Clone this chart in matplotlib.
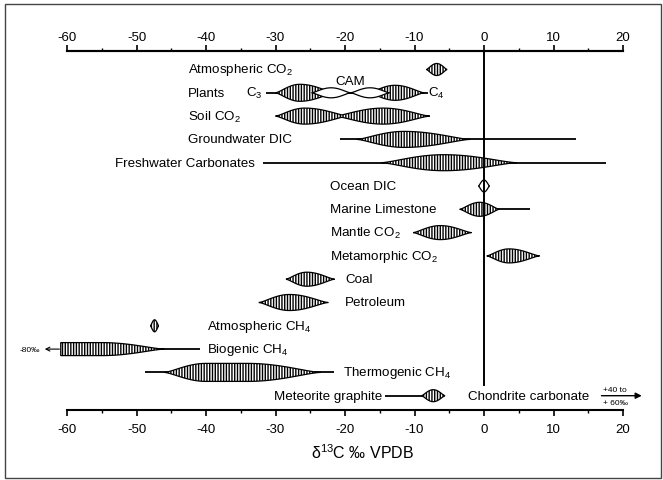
import numpy as np
import matplotlib
matplotlib.use("Agg")
import matplotlib.pyplot as plt
from matplotlib.patches import Polygon, Rectangle
from matplotlib.transforms import blended_transform_factory

plt.rcParams['font.family'] = ['Liberation Sans', 'DejaVu Sans']
plt.rcParams['mathtext.fontset'] = 'custom'
plt.rcParams['mathtext.rm'] = 'Liberation Sans'
plt.rcParams['mathtext.it'] = 'Liberation Sans:italic'
plt.rcParams['mathtext.bf'] = 'Liberation Sans:bold'
plt.rcParams['axes.unicode_minus'] = False
plt.rcParams['hatch.linewidth'] = 1.0

# ---------------- data (delta13C, permil VPDB) ----------------
row_labels = ["Atmospheric CO$_2$", "Plants", "Soil CO$_2$", "Groundwater DIC",
              "Freshwater Carbonates", "Ocean DIC", "Marine Limestone",
              "Mantle CO$_2$", "Metamorphic CO$_2$", "Coal", "Petroleum",
              "Atmospheric CH$_4$", "Biogenic CH$_4$", "Thermogenic CH$_4$",
              "Meteorite graphite"]
label_x = [-42.6, -42.6, -42.6, -42.6, -33.0, -22.2, -22.2, -22.2, -22.2,
           -20.0, -20.0, -39.8, -39.8, -20.3, -14.6]
label_ha = ["left", "left", "left", "left", "right", "left", "left", "left",
            "left", "left", "left", "left", "left", "left", "right"]

# full range whiskers
whisk_row = [1, 3, 4, 6, 12, 13, 14]
whisk_low = [-31.3, -20.7, -31.8, -1.0, -60.0, -48.8, -14.2]
whisk_high = [-8.0, 13.3, 17.5, 6.6, -40.8, -21.6, -7.0]

# distribution bodies: row, low, mode range, high, filled (hatched) or open
comp_row = [0, 1, 1, 1, 1, 2, 2, 3, 4, 5, 6, 7, 8, 9, 10, 11, 12, 13, 14]
comp_low = [-8.3, -30.0, -16.6, -24.8, -19.2, -30.0, -21.5, -18.3, -14.8, -0.8,
            -3.5, -10.2, 0.4, -28.5, -32.4, -48.0, -60.9, -46.0, -9.0]
comp_mode_lo = [-6.8, -26.5, -12.8, -22.0, -16.4, -25.8, -14.5, -11.5, -5.8, 0.0,
                -0.6, -6.3, 3.6, -25.5, -28.0, -47.4, -60.9, -40.0, -7.3]
comp_mode_hi = [-6.8, -26.5, -12.8, -22.0, -16.4, -25.8, -14.5, -11.5, -5.8, 0.0,
                -0.6, -6.3, 3.6, -25.5, -28.0, -47.4, -55.0, -34.0, -7.3]
comp_high = [-5.3, -21.5, -8.6, -19.2, -13.6, -19.5, -7.8, -2.0, 4.7, 0.8,
             2.2, -1.8, 8.0, -21.5, -22.4, -46.8, -46.0, -23.5, -5.6]
comp_filled = [True, True, True, False, False, True, True, True, True, False,
               True, True, True, True, True, True, True, True, True]
comp_half_px = [6, 8.5, 7.5, 5, 5, 8, 8, 8, 8, 6, 7, 7, 7, 7, 8, 6, 6.5, 9, 6]

xticks = [-60, -50, -40, -30, -20, -10, 0, 10, 20]

# ---------------- layout ----------------
W, H = 663, 481
ROW_PX = 23.3
ROW0_PX = 70.5
AX_TOP_PX, AX_BOT_PX = 52, 411

fig = plt.figure(figsize=(W / 100, H / 100), dpi=100)
ax = fig.add_axes([67 / W, 1 - AX_BOT_PX / H, (623 - 67) / W,
                   (AX_BOT_PX - AX_TOP_PX) / H])
ax.set_xlim(-60, 20)
ymin = (AX_TOP_PX - ROW0_PX) / ROW_PX
ymax = (AX_BOT_PX - ROW0_PX) / ROW_PX
ax.set_ylim(ymax, ymin)

for s in ['left', 'right']:
    ax.spines[s].set_visible(False)
for s in ['top', 'bottom']:
    ax.spines[s].set_linewidth(1.5)
ax.set_yticks([])
ax.set_xticks(xticks)
ax.set_xticklabels([str(t) for t in xticks])
ax.set_xticks(np.arange(-55, 20, 10), minor=True)
ax.tick_params(axis='x', which='major', bottom=True, top=False, direction='out',
               length=4, width=1.2, labelsize=9.5, pad=5.5)
ax.tick_params(axis='x', which='minor', bottom=True, top=False, direction='out',
               length=2, width=1.0)
sec = ax.secondary_xaxis('top')
sec.set_xticks(xticks)
sec.set_xticklabels([str(t) for t in xticks])
sec.set_xticks(np.arange(-55, 20, 10), minor=True)
sec.spines['top'].set_linewidth(1.5)
sec.tick_params(axis='x', which='major', direction='out', length=4, width=1.2,
                labelsize=9.5, pad=2)
sec.tick_params(axis='x', which='minor', direction='out', length=2, width=1.0)

# zero line
ax.plot([0, 0], [ymin, 13.55], color='black', lw=1.4, zorder=6, clip_on=False)

# whiskers
for r, lo, hi in zip(whisk_row, whisk_low, whisk_high):
    ax.plot([lo, hi], [r, r], color='black', lw=1.3, zorder=2,
            solid_capstyle='butt', clip_on=False)


def half_profile(x, lo, mlo, mhi, hi, h):
    out = np.zeros_like(x)
    if mlo > lo:
        m = (x >= lo) & (x < mlo)
        t = (mlo - x[m]) / (mlo - lo)
        out[m] = h * (1 - t ** 2) ** 1.5
    m = (x >= mlo) & (x <= mhi)
    out[m] = h
    if hi > mhi:
        m = (x > mhi) & (x <= hi)
        t = (x[m] - mhi) / (hi - mhi)
        out[m] = h * (1 - t ** 2) ** 1.5
    return out


groups = {}
for i, r in enumerate(comp_row):
    groups.setdefault((r, comp_filled[i]), []).append(i)

for (r, filled), idx in groups.items():
    lo = min(comp_low[i] for i in idx)
    hi = max(comp_high[i] for i in idx)
    xs = np.linspace(lo, hi, 500)
    half = np.zeros_like(xs)
    for i in idx:
        half = np.maximum(half, half_profile(xs, comp_low[i], comp_mode_lo[i],
                                             comp_mode_hi[i], comp_high[i],
                                             comp_half_px[i] / ROW_PX))
    pts = np.column_stack([np.r_[xs, xs[::-1]],
                           np.r_[r - half, (r + half)[::-1]]])
    poly = Polygon(pts, closed=True, facecolor='white', edgecolor='black',
                   lw=0.9, hatch='||||||' if filled else None,
                   zorder=3 if filled else 4, clip_on=False)
    ax.add_patch(poly)

# row labels
for i, (lab, x, ha) in enumerate(zip(row_labels, label_x, label_ha)):
    ax.text(x, i, lab, ha=ha, va='center', fontsize=9.6, zorder=7)

# extra annotations
ax.text(-34.3, 1, "C$_3$", ha='left', va='center', fontsize=9.6)
ax.text(-8.0, 1, "C$_4$", ha='left', va='center', fontsize=9.6)
ax.text(-19.3, 0.5, "CAM", ha='center', va='center', fontsize=9.6, zorder=8)
ax.text(-66.8, 12, "-80‰", ha='left', va='center', fontsize=6, clip_on=False)
ax.annotate('', xy=(-63.2, 12), xytext=(-61.1, 12),
            arrowprops=dict(arrowstyle='->', lw=0.8, color='black',
                            mutation_scale=7, shrinkA=0, shrinkB=0),
            annotation_clip=False)
ax.text(-2.3, 14, "Chondrite carbonate", ha='left', va='center', fontsize=9.6)
ax.annotate('', xy=(22.7, 14), xytext=(16.9, 14),
            arrowprops=dict(arrowstyle='-|>', lw=1.0, color='black',
                            mutation_scale=9, shrinkA=0, shrinkB=0),
            annotation_clip=False)
ax.text(18.9, 13.72, "+40 to", ha='center', va='center', fontsize=6)
ax.text(18.9, 14.3, "+ 60‰", ha='center', va='center', fontsize=6)

# x label
tr = blended_transform_factory(ax.transData, fig.transFigure)
ax.text(-17.5, 1 - 453 / H, "δ$^{13}$C ‰ VPDB", transform=tr, ha='center',
        va='center', fontsize=11.5)

# figure frame
fig.patches.append(Rectangle((4.5 / W, 2.5 / H), 656.5 / W, 474 / H,
                             transform=fig.transFigure, fill=False,
                             edgecolor='#444444', lw=1.0))

fig.savefig("out.png", dpi=100)
